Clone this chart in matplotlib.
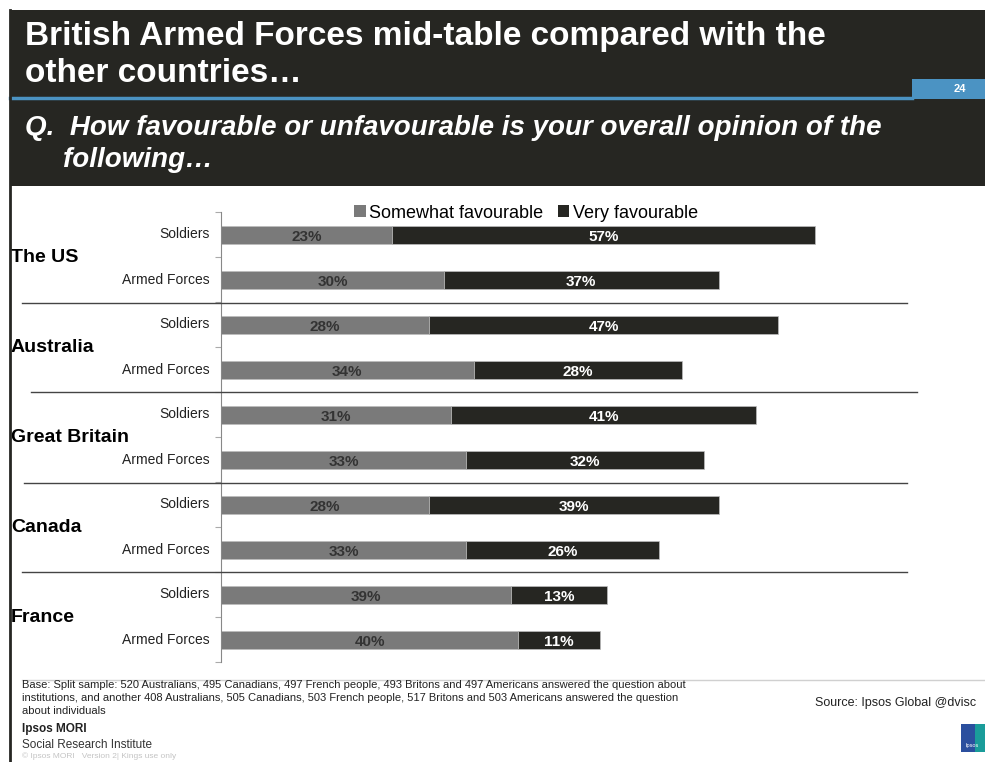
import matplotlib.pyplot as plt
import matplotlib.transforms as mtransforms
from matplotlib.patches import Rectangle, Patch
from matplotlib.lines import Line2D

plt.rcParams['font.family'] = ['Liberation Sans', 'DejaVu Sans']

# data
countries = ["The US", "Australia", "Great Britain", "Canada", "France"]
items = ["Soldiers", "Armed Forces"]
somewhat_soldiers = [23, 28, 31, 28, 39]
very_soldiers = [57, 47, 41, 39, 13]
somewhat_forces = [30, 34, 33, 33, 40]
very_forces = [37, 28, 32, 26, 11]

GREY = "#7a7a7a"
DARK = "#262622"
BLUE = "#4b93c3"
W, H = 985, 762


def fx(px):
    return px / W


def fy(py):
    return 1 - py / H


fig = plt.figure(figsize=(9.85, 7.62), dpi=100)
fig.patch.set_facecolor("white")

# header block
fig.add_artist(Rectangle((fx(10), fy(186)), fx(975), 176 / H, transform=fig.transFigure,
                         facecolor=DARK, edgecolor="none"))
fig.add_artist(Line2D([fx(10), fx(912)], [fy(98), fy(98)], transform=fig.transFigure,
                      color=BLUE, lw=2.5))
fig.add_artist(Rectangle((fx(912), fy(99)), fx(73), 20 / H, transform=fig.transFigure,
                         facecolor=BLUE, edgecolor="none"))
fig.text(fx(960), fy(89), "24", color="white", fontsize=8, fontweight="bold",
         ha="center", va="center")

fig.text(fx(25), fy(37), "British Armed Forces mid-table compared with the", color="white",
         fontsize=24, fontweight="bold", va="center")
fig.text(fx(25), fy(74), "other countries…", color="white",
         fontsize=24, fontweight="bold", va="center")
fig.text(fx(25), fy(128), "Q.  How favourable or unfavourable is your overall opinion of the",
         color="white", fontsize=20, fontweight="bold", style="italic", va="center")
fig.text(fx(63), fy(160), "following…", color="white", fontsize=20, fontweight="bold",
         style="italic", va="center")

# left border
fig.add_artist(Line2D([fx(10), fx(10)], [fy(10), fy(762)], transform=fig.transFigure,
                      color=DARK, lw=2))

# chart
ax = fig.add_axes([fx(221), fy(662), 743 / W, 450 / H])
ax.set_xlim(0, 100)
ax.set_ylim(10, 0)

ypos, som, very, labels = [], [], [], []
for i in range(len(countries)):
    ypos += [2 * i + 0.5, 2 * i + 1.5]
    som += [somewhat_soldiers[i], somewhat_forces[i]]
    very += [very_soldiers[i], very_forces[i]]
    labels += items

ax.barh(ypos, som, height=0.4, color=GREY, edgecolor="#bdbdbd", linewidth=0.5)
ax.barh(ypos, very, left=som, height=0.4, color=DARK, edgecolor="#bdbdbd", linewidth=0.5)

for y, s, v, lab in zip(ypos, som, very, labels):
    ax.text(s / 2, y + 0.05, f"{s}%", ha="center", va="center", color="#333333",
            fontsize=11, fontweight="bold")
    ax.text(s + v / 2, y + 0.05, f"{v}%", ha="center", va="center", color="white",
            fontsize=11, fontweight="bold")
    ax.text(-1.5, y, lab, ha="right", va="center", fontsize=10, color="#222222")

trans = mtransforms.blended_transform_factory(fig.transFigure, ax.transData)
for i, c in enumerate(countries):
    ax.text(fx(11), 2 * i + 1, c, transform=trans, ha="left", va="center", fontsize=14,
            fontweight="bold", color="black")

for sp in ["top", "right", "bottom"]:
    ax.spines[sp].set_visible(False)
ax.spines["left"].set_color("#888888")
ax.set_xticks([])
ax.set_yticks(range(11))
ax.set_yticklabels([])
ax.tick_params(axis="y", length=4, color="#aaaaaa", direction="out")

# separators between countries
sep = [(303, 22, 907), (392, 31, 917), (483, 24, 907), (572, 22, 907)]
for yy, x0, x1 in sep:
    fig.add_artist(Line2D([fx(x0), fx(x1)], [fy(yy), fy(yy)], transform=fig.transFigure,
                          color="#444444", lw=1))

handles = [Patch(facecolor=GREY, label="Somewhat favourable"),
           Patch(facecolor=DARK, label="Very favourable")]
fig.legend(handles=handles, loc="center", bbox_to_anchor=(fx(526), fy(213)), ncol=2,
           frameon=False, fontsize=13, handlelength=0.65, handleheight=0.65,
           handletextpad=0.2, columnspacing=0.8)

# footer
fig.add_artist(Line2D([fx(22), fx(985)], [fy(680), fy(680)], transform=fig.transFigure,
                      color="#d0d0d0", lw=1))
base = ("Base: Split sample: 520 Australians, 495 Canadians, 497 French people, 493 Britons and 497 Americans answered the question about\n"
        "institutions, and another 408 Australians, 505 Canadians, 503 French people, 517 Britons and 503 Americans answered the question\n"
        "about individuals")
fig.text(fx(22), fy(680), base, fontsize=8, va="top", color="#222222", linespacing=1.4)
fig.text(fx(815), fy(703), "Source: Ipsos Global @dvisc", fontsize=9, va="center",
         color="#222222")
fig.text(fx(22), fy(729), "Ipsos MORI", fontsize=8.5, fontweight="bold", va="center",
         color="#222222")
fig.text(fx(22), fy(745), "Social Research Institute", fontsize=8.5, va="center",
         color="#333333")
fig.text(fx(22), fy(756), "© Ipsos MORI   Version 2| Kings use only", fontsize=6, va="center",
         color="#c4c4c4")

# logo
fig.add_artist(Rectangle((fx(961), fy(752)), fx(24), 28 / H, transform=fig.transFigure,
                         facecolor="#2b4f9e", edgecolor="none"))
fig.add_artist(Rectangle((fx(975), fy(752)), fx(10), 28 / H, transform=fig.transFigure,
                         facecolor="#1a9c9a", edgecolor="none"))
fig.text(fx(972), fy(745), "Ipsos", fontsize=4, color="white", ha="center", va="center")

fig.savefig("out.png", dpi=100)
